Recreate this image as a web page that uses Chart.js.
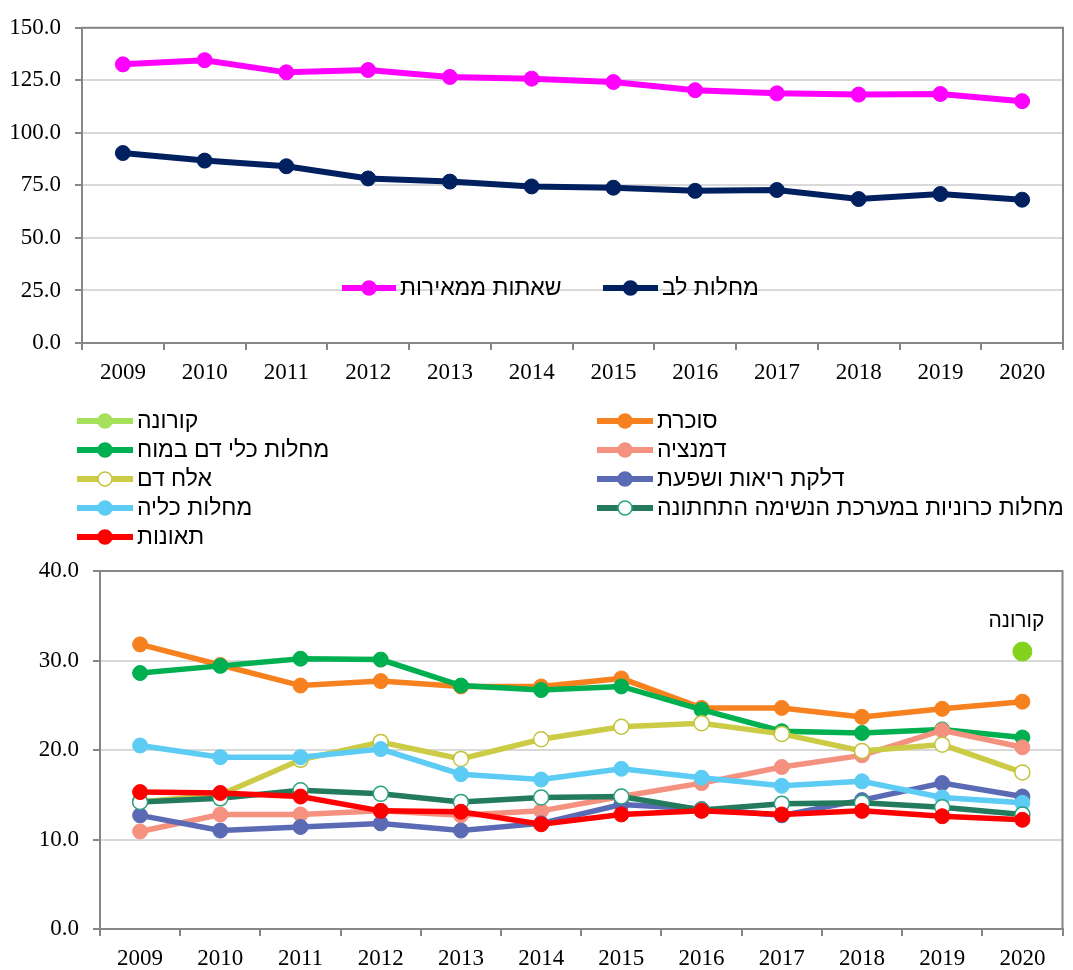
<!DOCTYPE html>
<html lang="he">
<head>
<meta charset="UTF-8">
<title>סיבות מוות מובילות</title>
<script src="https://cdn.jsdelivr.net/npm/chart.js"></script>
<style>
  body { margin: 0; background: #fff; }
  #wrap { position: relative; width: 1073px; height: 970px; }
  #topChart { position: absolute; left: 0; top: 0; }
  #bottomChart { position: absolute; left: 0; top: 390px; }
</style>
</head>
<body>
<div id="wrap">
  <canvas id="topChart" width="1073" height="390"></canvas>
  <canvas id="bottomChart" width="1073" height="580"></canvas>
</div>

<script>
// נתונים
const years = ['2009', '2010', '2011', '2012', '2013', '2014', '2015', '2016', '2017', '2018', '2019', '2020'];

// גרף עליון
const topLabels = ['שאתות ממאירות', 'מחלות לב'];
const cancerVals = [132.6, 134.6, 128.8, 129.9, 126.6, 125.8, 124.2, 120.3, 118.8, 118.2, 118.5, 115.1];
const heartVals = [90.4, 86.8, 84.1, 78.3, 76.8, 74.5, 73.9, 72.4, 72.8, 68.5, 70.9, 68.2];
const topTicks = [0, 150, 25];

// גרף תחתון
const bottomLabels = ['קורונה', 'סוכרת', 'מחלות כלי דם במוח', 'דמנציה', 'אלח דם',
  'דלקת ריאות ושפעת', 'מחלות כליה', 'מחלות כרוניות במערכת הנשימה התחתונה', 'תאונות'];
const coronaVals = [null, null, null, null, null, null, null, null, null, null, null, 31.0];
const diabetesVals = [31.8, 29.5, 27.2, 27.7, 27.1, 27.1, 28.0, 24.7, 24.7, 23.7, 24.6, 25.4];
const cerebroVals = [28.6, 29.4, 30.2, 30.1, 27.2, 26.7, 27.1, 24.5, 22.1, 21.9, 22.3, 21.4];
const dementiaVals = [10.9, 12.8, 12.8, 13.2, 12.7, 13.2, 14.8, 16.3, 18.1, 19.4, 22.2, 20.3];
const sepsisVals = [14.2, 15.0, 18.9, 20.9, 19.0, 21.2, 22.6, 23.0, 21.8, 19.9, 20.6, 17.5];
const pneumoniaVals = [12.7, 11.0, 11.4, 11.8, 11.0, 11.8, 13.9, 13.4, 12.7, 14.4, 16.3, 14.8];
const kidneyVals = [20.5, 19.2, 19.2, 20.1, 17.3, 16.7, 17.9, 16.9, 16.0, 16.5, 14.7, 14.1];
const chronicVals = [14.2, 14.6, 15.5, 15.1, 14.2, 14.7, 14.8, 13.3, 14.0, 14.1, 13.6, 12.8];
const accidentVals = [15.3, 15.2, 14.8, 13.2, 13.1, 11.7, 12.8, 13.2, 12.8, 13.2, 12.6, 12.2];
const bottomTicks = [0, 40, 10];

const serif = '"Liberation Serif", "Times New Roman", serif';
const sans = '"Liberation Sans", Arial, "DejaVu Sans", sans-serif';
const axisGray = '#868686';

// מסגרת עליונה וימנית + מקרא מצויר
const framePlugin = {
  id: 'framePlugin',
  beforeDatasetsDraw(chart) {
    const { ctx, chartArea: a } = chart;
    ctx.save();
    ctx.strokeStyle = axisGray;
    ctx.lineWidth = 2;
    ctx.beginPath();
    ctx.moveTo(a.left, a.top);
    ctx.lineTo(a.right, a.top);
    ctx.lineTo(a.right, a.bottom);
    ctx.stroke();
    ctx.restore();
  },
  afterDraw(chart, args, opts) {
    const ctx = chart.ctx;
    const items = opts.items || [];
    ctx.save();
    items.forEach(it => {
      const ds = chart.data.datasets[it.index];
      const cx = (it.x0 + it.x1) / 2;
      ctx.strokeStyle = ds.borderColor;
      ctx.lineWidth = 6;
      ctx.beginPath();
      ctx.moveTo(it.x0, it.y);
      ctx.lineTo(it.x1, it.y);
      ctx.stroke();
      ctx.beginPath();
      ctx.arc(cx, it.y, 7, 0, Math.PI * 2);
      ctx.fillStyle = ds.legendFill || ds.pointBackgroundColor;
      ctx.fill();
      ctx.lineWidth = 1.5;
      ctx.strokeStyle = ds.legendFill || ds.pointBorderColor;
      ctx.stroke();
      ctx.fillStyle = '#000';
      ctx.font = '23px ' + sans;
      ctx.textAlign = 'left';
      ctx.textBaseline = 'middle';
      ctx.fillText(ds.label, it.x1 + 4, it.y + 1);
    });
    // תווית לנקודת הקורונה
    if (opts.pointLabel) {
      const meta = chart.getDatasetMeta(opts.pointLabel.index);
      const pt = meta.data[years.length - 1];
      ctx.font = '21px ' + sans;
      ctx.textAlign = 'center';
      ctx.textBaseline = 'middle';
      ctx.fillStyle = '#000';
      ctx.fillText(chart.data.datasets[opts.pointLabel.index].label, pt.x - 6, pt.y - 30);
    }
    ctx.restore();
  }
};

function lineSet(label, data, color, opts = {}) {
  return Object.assign({
    label: label,
    data: data,
    borderColor: color,
    backgroundColor: color,
    pointBackgroundColor: color,
    pointBorderColor: color,
    pointBorderWidth: 1,
    borderWidth: 5.5,
    pointRadius: 7.5,
    tension: 0
  }, opts);
}

function scales(ticks, yWidth, xHeight) {
  return {
    x: {
      offset: true,
      grid: { offset: true, drawOnChartArea: false, tickLength: 7, tickColor: axisGray, lineWidth: 2 },
      border: { color: axisGray, width: 2 },
      ticks: { color: '#000', font: { family: serif, size: 23 }, padding: 9, maxRotation: 0 },
      afterFit: s => { s.height = xHeight; }
    },
    y: {
      min: ticks[0], max: ticks[1],
      grid: { color: '#D9D9D9', lineWidth: 2, tickLength: 7, tickColor: axisGray },
      border: { color: axisGray, width: 2 },
      ticks: { stepSize: ticks[2], color: '#000', font: { family: serif, size: 23 }, padding: 14,
        callback: v => Number(v).toFixed(1) },
      afterFit: s => { s.width = yWidth; }
    }
  };
}

new Chart(document.getElementById('topChart'), {
  type: 'line',
  data: {
    labels: years,
    datasets: [
      lineSet(topLabels[0], cancerVals, '#FF00FF', { borderWidth: 6 }),
      lineSet(topLabels[1], heartVals, '#002060', { borderWidth: 6 })
    ]
  },
  options: {
    responsive: false,
    animation: false,
    layout: { padding: { left: 0, right: 10, top: 21, bottom: 0 } },
    scales: scales(topTicks, 82, 47),
    plugins: {
      legend: { display: false },
      tooltip: { enabled: false },
      framePlugin: {
        items: [
          { index: 0, x0: 342, x1: 396, y: 288 },
          { index: 1, x0: 603, x1: 658, y: 288 }
        ]
      }
    }
  },
  plugins: [framePlugin]
});

const bottomColors = ['#A5E15A', '#F7811F', '#00AF50', '#F4917F', '#CBCB45', '#5B6AB4', '#5DCCF4', '#237A5C', '#FF0000'];
const bottomData = [coronaVals, diabetesVals, cerebroVals, dementiaVals, sepsisVals, pneumoniaVals, kidneyVals, chronicVals, accidentVals];

const bottomSets = bottomLabels.map((lbl, i) => {
  const extra = { order: bottomLabels.length - 1 - i };
  if (i === 0) {
    extra.pointBackgroundColor = '#82D21E';
    extra.pointBorderColor = '#82D21E';
    extra.pointRadius = 9.5;
    extra.legendFill = bottomColors[0];
  }
  if (i === 4) {
    extra.pointBackgroundColor = '#FFFFFF';
    extra.pointBorderColor = '#C3C33A';
    extra.pointBorderWidth = 1.5;
  }
  if (i === 7) {
    extra.pointBackgroundColor = '#FFFFFF';
    extra.pointBorderColor = '#2AA37E';
    extra.pointBorderWidth = 1.5;
  }
  return lineSet(lbl, bottomData[i], bottomColors[i], extra);
});

const legendRows = [31, 60, 89, 118, 147];
const legendItems = bottomLabels.map((lbl, i) => {
  const row = Math.floor(i / 2);
  const col = i % 2;
  return { index: i, x0: col ? 597 : 77, x1: col ? 653 : 133, y: legendRows[row] };
});

new Chart(document.getElementById('bottomChart'), {
  type: 'line',
  data: { labels: years, datasets: bottomSets },
  options: {
    responsive: false,
    animation: false,
    layout: { padding: { left: 0, right: 1, top: 181, bottom: 0 } },
    scales: scales(bottomTicks, 100, 41),
    plugins: {
      legend: { display: false },
      tooltip: { enabled: false },
      framePlugin: {
        items: legendItems,
        pointLabel: { index: 0 }
      }
    }
  },
  plugins: [framePlugin]
});
</script>
</body>
</html>
